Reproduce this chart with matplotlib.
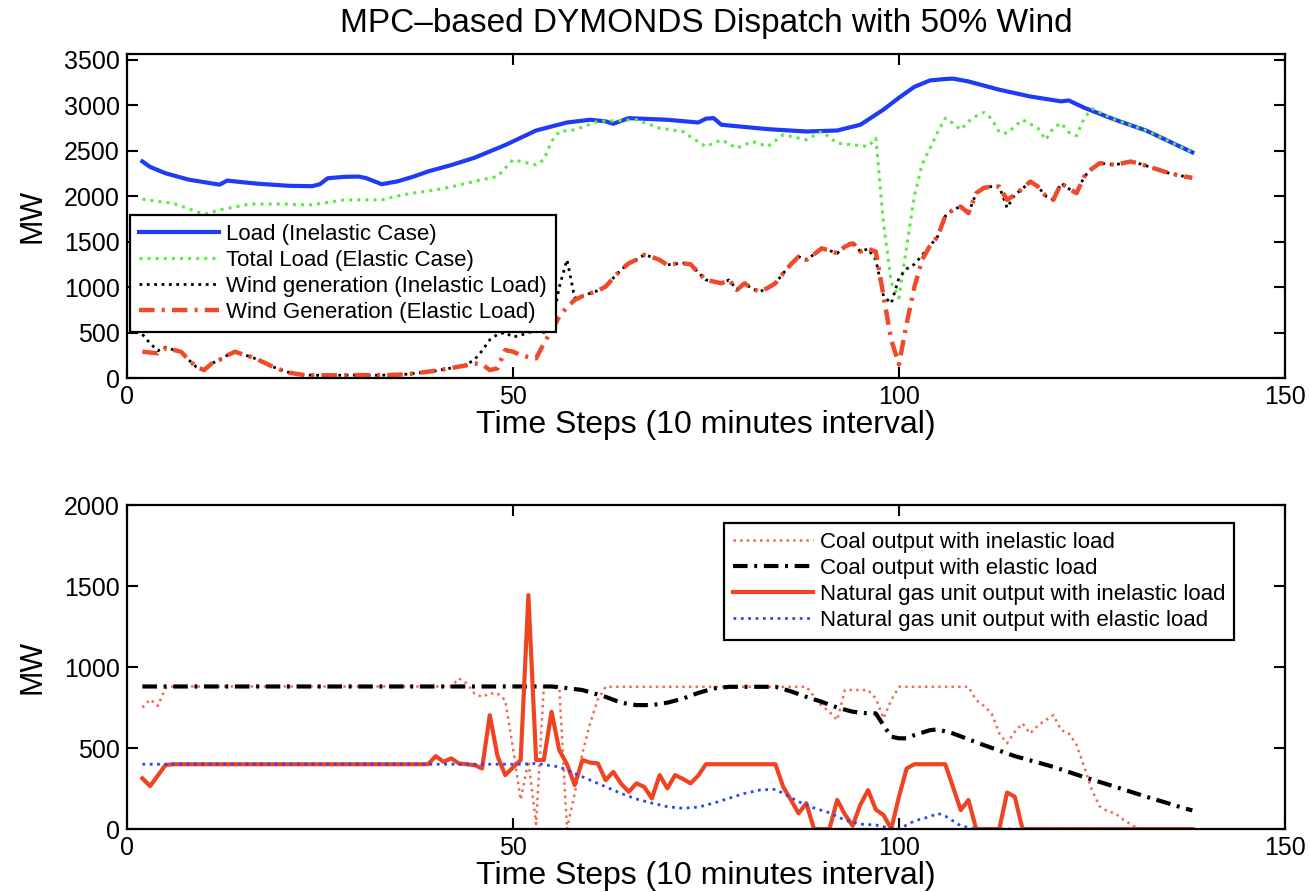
import numpy as np
import matplotlib
matplotlib.use('Agg')
import matplotlib.pyplot as plt

plt.rcParams['font.family'] = ['Liberation Sans', 'DejaVu Sans']

# ---- top panel data (MW) ----
load_t = [2, 3, 5, 8, 12, 13, 14, 17, 21, 24, 25, 26, 28, 30, 31, 33, 35, 37, 39, 42, 45, 49, 53, 57,
          60, 62, 63, 65, 70, 74, 75, 76, 77, 83, 88, 92, 95, 98, 100, 102, 104, 106, 107, 109, 113,
          117, 121, 122, 124, 128, 132, 135, 138]
load_inelastic = [2380, 2320, 2250, 2180, 2125, 2170, 2160, 2135, 2112, 2108, 2130, 2195, 2210, 2214,
                  2196, 2130, 2160, 2210, 2270, 2340, 2420, 2560, 2720, 2808, 2838, 2820, 2794, 2856,
                  2838, 2808, 2850, 2856, 2783, 2735, 2709, 2720, 2783, 2950, 3080, 3200, 3270, 3286,
                  3290, 3259, 3168, 3094, 3040, 3050, 2970, 2838, 2720, 2600, 2480]

total_t = [2, 4, 6, 8, 10, 12, 14, 16, 18, 20, 22, 24, 26, 28, 30, 33, 35, 37, 40, 42, 44, 46, 48, 50,
           51, 53, 54, 55, 56, 58, 61, 64, 66, 69, 72, 73, 75, 77, 79, 81, 83, 85, 88, 90, 92, 94, 96,
           97, 98, 99, 100, 101, 102, 103, 104, 105, 106, 107, 108, 109, 110, 111, 112, 113, 114, 116,
           118, 119, 120, 121, 122, 123, 124, 125, 128, 132, 135, 138]
total_elastic = [1966, 1940, 1920, 1860, 1800, 1848, 1880, 1914, 1910, 1914, 1905, 1903, 1930, 1955,
                 1958, 1958, 2000, 2031, 2068, 2100, 2141, 2180, 2214, 2398, 2380, 2343, 2400, 2600,
                 2709, 2728, 2819, 2830, 2838, 2746, 2709, 2650, 2544, 2618, 2526, 2600, 2544, 2673,
                 2618, 2709, 2581, 2563, 2544, 2636, 1700, 1050, 880, 1450, 2000, 2350, 2520, 2700,
                 2856, 2800, 2728, 2820, 2880, 2919, 2850, 2700, 2690, 2838, 2746, 2618, 2750, 2801,
                 2700, 2662, 2856, 2960, 2838, 2720, 2600, 2480]

wind_t = [2, 3, 4, 5, 6, 7, 8, 9, 10, 11, 12, 13, 14, 15, 16, 17, 18, 19, 20, 21, 22, 23, 25, 27, 30,
          32, 34, 36, 38, 40, 42, 43, 44, 45, 46, 47, 48, 49, 50, 51, 52, 53, 54, 55, 56, 57, 58, 59,
          60, 61, 62, 63, 64, 65, 66, 67, 68, 69, 70, 71, 72, 73, 74, 75, 76, 77, 78, 79, 80, 81, 82,
          83, 84, 85, 86, 87, 88, 89, 90, 91, 92, 93, 94, 95, 96, 97, 98, 99, 100, 101, 102, 103, 104,
          105, 106, 107, 108, 109, 110, 111, 112, 113, 114, 115, 116, 117, 118, 119, 120, 121, 122,
          123, 124, 125, 126, 128, 130, 131, 133, 135, 137, 138]
wind_elastic = [290, 280, 271, 326, 310, 289, 200, 120, 88, 161, 200, 250, 289, 260, 234, 200, 161, 120,
                88, 60, 45, 33, 30, 30, 33, 30, 33, 40, 59, 80, 110, 125, 140, 161, 150, 88, 106, 308,
                290, 253, 230, 216, 381, 520, 675, 780, 858, 900, 931, 960, 1004, 1100, 1188, 1261,
                1300, 1353, 1330, 1298, 1243, 1255, 1261, 1250, 1160, 1078, 1060, 1041, 1078, 968,
                1041, 980, 950, 990, 1041, 1151, 1250, 1334, 1298, 1360, 1426, 1400, 1371, 1444, 1481,
                1389, 1420, 1389, 900, 420, 150, 600, 1000, 1300, 1450, 1554, 1780, 1850, 1884, 1811,
                2031, 2090, 2104, 2104, 1958, 2013, 2080, 2159, 2104, 2000, 1958, 2141, 2080, 2031,
                2214, 2300, 2361, 2343, 2379, 2360, 2306, 2251, 2214, 2200]
wind_inelastic = [480, 380, 300, 340, 310, 289, 200, 120, 88, 161, 200, 250, 289, 260, 234, 200, 161,
                  120, 88, 60, 45, 33, 30, 30, 33, 30, 33, 40, 59, 80, 110, 125, 150, 200, 300, 420,
                  480, 500, 450, 470, 500, 520, 500, 560, 1000, 1300, 880, 900, 931, 960, 1004, 1100,
                  1188, 1261, 1300, 1353, 1330, 1298, 1243, 1255, 1261, 1250, 1160, 1078, 1060, 1041,
                  1078, 968, 1041, 980, 950, 990, 1041, 1151, 1250, 1334, 1298, 1360, 1426, 1400, 1371,
                  1444, 1500, 1389, 1420, 1300, 900, 820, 1100, 1200, 1250, 1350, 1450, 1554, 1780,
                  1850, 1884, 1811, 2031, 2090, 2104, 2104, 1870, 2013, 2080, 2159, 2104, 2000, 1958,
                  2141, 2080, 2031, 2214, 2300, 2361, 2343, 2379, 2360, 2306, 2251, 2214, 2200]

# ---- bottom panel data (MW) ----
gas_inel_t = [2, 3, 4, 5, 6, 39, 40, 41, 42, 43, 44, 45, 46, 47, 48, 49, 50, 51, 52, 53, 54, 55, 56,
              57, 58, 59, 60, 61, 62, 63, 64, 65, 66, 67, 68, 69, 70, 71, 72, 73, 74, 75, 84, 85, 86,
              87, 88, 89, 91, 92, 93, 94, 95, 96, 97, 98, 99, 100, 101, 102, 106, 107, 108, 109, 110,
              113, 114, 115, 116, 138]
gas_inelastic = [313, 265, 330, 395, 400, 400, 450, 415, 436, 405, 400, 395, 374, 703, 450, 333, 380,
                 426, 1444, 426, 426, 724, 487, 400, 271, 426, 410, 405, 302, 353, 280, 230, 282, 260,
                 189, 333, 251, 333, 310, 282, 330, 400, 400, 261, 180, 97, 159, 0, 0, 180, 90, 20,
                 150, 240, 120, 86, 0, 200, 374, 400, 400, 260, 117, 179, 0, 0, 225, 200, 0, 0]

gas_el_t = [2, 51, 53, 55, 56, 58, 60, 62, 64, 66, 68, 70, 72, 74, 76, 78, 80, 82, 84, 85, 87, 89, 91,
            93, 95, 97, 99, 100, 101, 102, 104, 105, 106, 107, 108, 110, 138]
gas_elastic = [400, 400, 405, 390, 384, 343, 302, 261, 220, 185, 160, 138, 128, 135, 160, 190, 220,
               241, 245, 220, 169, 130, 100, 55, 30, 25, 4, 0, 25, 50, 76, 97, 80, 50, 20, 0, 0]

coal_inel_t = [2, 3, 4, 5, 6, 42, 43, 44, 45, 46, 47, 48, 49, 50, 51, 52, 53, 54, 56, 57, 58, 59, 60,
               61, 62, 88, 89, 90, 91, 92, 93, 96, 97, 98, 99, 100, 109, 110, 111, 112, 113, 114, 115,
               116, 117, 118, 119, 120, 121, 122, 123, 124, 125, 126, 127, 128, 129, 130, 131, 138]
coal_inelastic = [750, 800, 760, 870, 880, 880, 930, 900, 837, 816, 837, 837, 796, 500, 180, 420, 30,
                  880, 880, 0, 220, 469, 654, 800, 878, 878, 820, 760, 724, 672, 858, 858, 806, 683,
                  796, 878, 878, 796, 760, 714, 590, 529, 600, 652, 590, 640, 672, 703, 611, 590, 520,
                  384, 240, 140, 110, 97, 60, 30, 0, 0]

coal_el_t = [2, 55, 57, 59, 61, 62, 64, 66, 68, 70, 72, 74, 76, 78, 84, 86, 88, 90, 92, 94, 96, 97,
             98, 99, 100, 101, 102, 104, 105, 107, 111, 115, 120, 124, 128, 132, 137, 138]
coal_elastic = [880, 880, 870, 858, 830, 816, 780, 765, 765, 780, 805, 840, 868, 878, 878, 850, 816,
                785, 750, 724, 714, 714, 640, 570, 560, 560, 580, 610, 615, 590, 518, 450, 384, 320,
                261, 200, 128, 115]

xticks = [0, 50, 100, 150]
xlab = 'Time Steps (10 minutes interval)'

fig = plt.figure(figsize=(13.1, 8.92), dpi=100)
ax1 = fig.add_axes([0.0969, 0.5762, 0.884, 0.3632])
ax2 = fig.add_axes([0.0969, 0.0706, 0.884, 0.3632])

ax1.plot(load_t, load_inelastic, color='#1e3cf5', lw=3, label='Load (Inelastic Case)')
ax1.plot(total_t, total_elastic, color='#5ee64a', lw=2.2, ls=':', label='Total Load (Elastic Case)')
ax1.plot(wind_t, wind_inelastic, color='black', lw=2, ls=':', label='Wind generation (Inelastic Load)')
ax1.plot(wind_t, wind_elastic, color='#f04a2a', lw=3.2, ls=(0, (3.5, 1.6, 0.7, 1.6)),
         label='Wind Generation (Elastic Load)')

ax2.plot(coal_inel_t, coal_inelastic, color='#f06a58', lw=1.8, ls=':', label='Coal output with inelastic load')
ax2.plot(coal_el_t, coal_elastic, color='black', lw=3, ls=(0, (3.5, 1.6, 0.7, 1.6)),
         label='Coal output with elastic load')
ax2.plot(gas_inel_t, gas_inelastic, color='#ee4422', lw=3, label='Natural gas unit output with inelastic load')
ax2.plot(gas_el_t, gas_elastic, color='#2a45f5', lw=2, ls=':', label='Natural gas unit output with elastic load')

ax1.set_ylim(0, 3560)
ax1.set_yticks(range(0, 3501, 500))
ax2.set_ylim(0, 2000)
ax2.set_yticks(range(0, 2001, 500))

for ax in (ax1, ax2):
    ax.set_xlim(0, 150)
    ax.set_xticks(xticks)
    ax.tick_params(direction='in', top=True, right=True, length=8, width=1.5, labelsize=18, pad=5)
    for s in ax.spines.values():
        s.set_linewidth(1.6)
    ax.set_xlabel(xlab, fontsize=23, labelpad=1)
    ax.set_ylabel('MW', fontsize=22, labelpad=12)

ax1.set_title('MPC\u2013based DYMONDS Dispatch with 50% Wind', fontsize=24, pad=16)

leg1 = ax1.legend(loc='upper left', bbox_to_anchor=(0.003, 0.503), borderaxespad=0, fontsize=16,
                  handlelength=3.6, handletextpad=0.3, labelspacing=0.22, borderpad=0.4,
                  fancybox=False, framealpha=1, edgecolor='black')
leg1.get_frame().set_linewidth(1.6)
leg2 = ax2.legend(loc='upper left', bbox_to_anchor=(0.516, 0.944), borderaxespad=0, fontsize=16,
                  handlelength=3.6, handletextpad=0.3, labelspacing=0.22, borderpad=0.4,
                  fancybox=False, framealpha=1, edgecolor='black')
leg2.get_frame().set_linewidth(1.6)

fig.savefig('out.png', dpi=100)
